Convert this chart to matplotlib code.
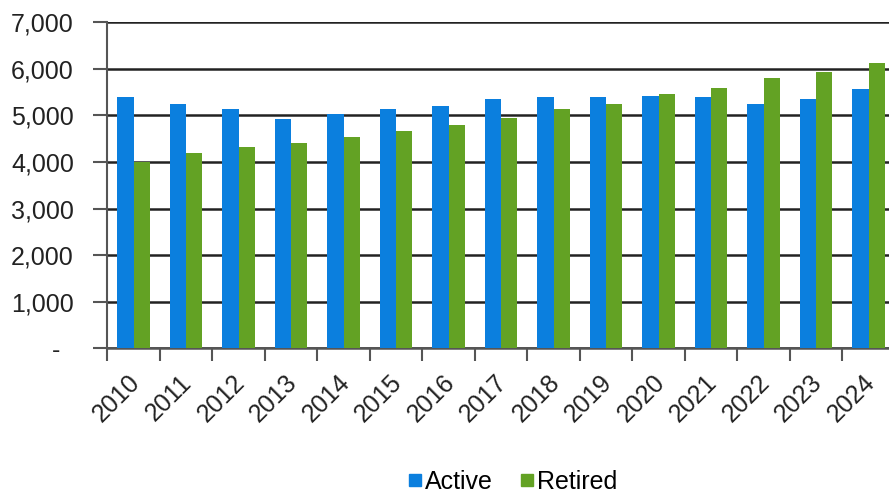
import numpy as np
import matplotlib.pyplot as plt
from matplotlib.ticker import FuncFormatter
from matplotlib.lines import Line2D

years = ['2010', '2011', '2012', '2013', '2014', '2015', '2016', '2017',
         '2018', '2019', '2020', '2021', '2022', '2023', '2024']
active = [5390, 5250, 5130, 4920, 5040, 5130, 5210, 5350,
          5390, 5390, 5420, 5390, 5250, 5350, 5560]
retired = [4010, 4190, 4320, 4400, 4530, 4660, 4790, 4950,
           5130, 5250, 5470, 5600, 5810, 5940, 6120]

c_act = '#0B7FDE'
c_ret = '#63A224'

plt.rcParams['font.family'] = ['Liberation Sans', 'DejaVu Sans']

fig = plt.figure(figsize=(8.89, 4.97), dpi=100)
ax = fig.add_axes([107.3 / 889, 1 - 348.3 / 497, 787.5 / 889, 326 / 497])

x = np.arange(len(years))
w = 0.31
ax.bar(x - w / 2, active, w, color=c_act, zorder=3)
ax.bar(x + w / 2, retired, w, color=c_ret, zorder=3)

ax.set_xlim(-0.5, len(years) - 0.5)
ax.set_ylim(0, 7000)
ax.set_yticks(np.arange(0, 7001, 1000))
ax.yaxis.set_major_formatter(FuncFormatter(lambda v, p: '-  ' if v == 0 else f'{int(v):,}'))
ax.grid(axis='y', color='#222222', lw=1.8, zorder=1)

# ticks between categories, labels at centres
ax.set_xticks(np.arange(-0.5, len(years), 1), minor=False)
ax.set_xticklabels([])
ax.set_xticks(x - 0.12, minor=True)
ax.set_xticklabels(years, minor=True, rotation=45, ha='right',
                   rotation_mode='anchor', fontsize=18, color='#222222')
ax.tick_params(axis='x', which='minor', length=0, pad=16)
ax.tick_params(axis='x', which='major', length=9, width=1.5, color='#555555')
ax.tick_params(axis='y', length=10, width=1.5, color='#555555',
               labelsize=18, labelcolor='#222222', pad=14)

for s in ['top', 'right']:
    ax.spines[s].set_visible(False)
ax.spines['left'].set_color('#555555')
ax.spines['left'].set_linewidth(1.5)
ax.spines['bottom'].set_color('#555555')
ax.spines['bottom'].set_linewidth(1.8)
ax.spines['left'].set_zorder(4)

handles = [Line2D([], [], marker='s', ls='', color=c_act, markersize=9),
           Line2D([], [], marker='s', ls='', color=c_ret, markersize=9)]
fig.legend(handles, ['Active', 'Retired'], loc='center', bbox_to_anchor=(512 / 889, 1 - 482 / 497),
           ncol=2, frameon=False, fontsize=18, handletextpad=0.05, columnspacing=1.0,
           handlelength=0.7)

fig.savefig('out.png', dpi=100)
